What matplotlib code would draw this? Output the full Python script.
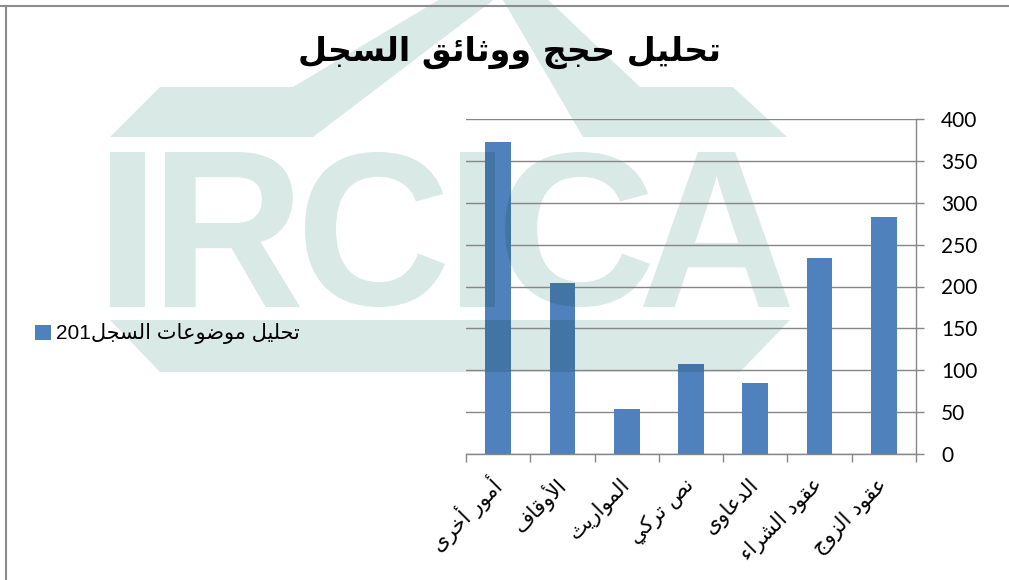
import numpy as np
import matplotlib.pyplot as plt
from matplotlib.patches import Polygon, PathPatch
from matplotlib.lines import Line2D
from matplotlib.textpath import TextPath
from matplotlib.font_manager import FontProperties
from matplotlib.transforms import Affine2D

# ---- data ----
title = 'تحليل حجج ووثائق السجل'
series_name = 'تحليل موضوعات السجل'
series_suffix = '201'
categories = ['أمور أخرى', 'الأوقاف', 'المواريث', 'نص تركي', 'الدعاوى', 'عقود الشراء', 'عقود الزوج']
values = [372, 204, 54, 107, 85, 234, 283]
yticks = [0, 50, 100, 150, 200, 250, 300, 350, 400]

# ---- minimal arabic shaping (matplotlib has no bidi / joining) ----
FORMS = {  # isolated, final, initial, medial
    'ا': (0xFE8D, 0xFE8E, None, None), 'أ': (0xFE83, 0xFE84, None, None),
    'ت': (0xFE95, 0xFE96, 0xFE97, 0xFE98), 'ث': (0xFE99, 0xFE9A, 0xFE9B, 0xFE9C),
    'ج': (0xFE9D, 0xFE9E, 0xFE9F, 0xFEA0), 'ح': (0xFEA1, 0xFEA2, 0xFEA3, 0xFEA4),
    'خ': (0xFEA5, 0xFEA6, 0xFEA7, 0xFEA8), 'د': (0xFEA9, 0xFEAA, None, None),
    'ر': (0xFEAD, 0xFEAE, None, None), 'ز': (0xFEAF, 0xFEB0, None, None),
    'س': (0xFEB1, 0xFEB2, 0xFEB3, 0xFEB4), 'ش': (0xFEB5, 0xFEB6, 0xFEB7, 0xFEB8),
    'ص': (0xFEB9, 0xFEBA, 0xFEBB, 0xFEBC), 'ض': (0xFEBD, 0xFEBE, 0xFEBF, 0xFEC0),
    'ع': (0xFEC9, 0xFECA, 0xFECB, 0xFECC), 'ف': (0xFED1, 0xFED2, 0xFED3, 0xFED4),
    'ق': (0xFED5, 0xFED6, 0xFED7, 0xFED8), 'ك': (0xFED9, 0xFEDA, 0xFEDB, 0xFEDC),
    'ل': (0xFEDD, 0xFEDE, 0xFEDF, 0xFEE0), 'م': (0xFEE1, 0xFEE2, 0xFEE3, 0xFEE4),
    'ن': (0xFEE5, 0xFEE6, 0xFEE7, 0xFEE8), 'و': (0xFEED, 0xFEEE, None, None),
    'ى': (0xFEEF, 0xFEF0, None, None), 'ي': (0xFEF1, 0xFEF2, 0xFEF3, 0xFEF4),
    'ئ': (0xFE89, 0xFE8A, 0xFE8B, 0xFE8C),
}
LAMALEF = {'ا': (0xFEFB, 0xFEFC), 'أ': (0xFEF7, 0xFEF8)}


def jtype(tok):
    if isinstance(tok, tuple):
        return 'R'
    if tok in FORMS:
        return 'D' if FORMS[tok][2] else 'R'
    return 'U'


def ar(text):
    toks = []
    i = 0
    while i < len(text):
        if text[i] == 'ل' and i + 1 < len(text) and text[i + 1] in LAMALEF:
            toks.append(('LA', text[i + 1]))
            i += 2
        else:
            toks.append(text[i])
            i += 1
    out = []
    for k, t in enumerate(toks):
        prev = jtype(toks[k - 1]) if k > 0 else 'U'
        nxt = jtype(toks[k + 1]) if k + 1 < len(toks) else 'U'
        me = jtype(t)
        jp = prev == 'D' and me in 'DR'
        jn = me == 'D' and nxt in 'DR'
        if isinstance(t, tuple):
            out.append(chr(LAMALEF[t[1]][1 if jp else 0]))
        elif t in FORMS:
            f = FORMS[t]
            idx = 3 if (jp and jn) else 1 if jp else 2 if jn else 0
            out.append(chr(f[idx]))
        else:
            out.append(t)
    return ''.join(out)[::-1]


W, H = 1009, 580
fig = plt.figure(figsize=(W / 100, H / 100), dpi=100)
ax = fig.add_axes([466 / W, 1 - 454 / H, 450 / W, 335 / H])
ax.patch.set_alpha(0)

x = np.arange(len(categories))
bars = ax.bar(x, values, width=0.4, color='#4f81bd', zorder=2,
              label=series_suffix + ar(series_name))

ax.set_xlim(-0.5, len(categories) - 0.5)
ax.set_ylim(0, 400)
ax.set_axisbelow(True)
ax.yaxis.grid(True, color='#868686', lw=1.0, zorder=0.5)

grey = '#868686'
for s in ['top', 'left']:
    ax.spines[s].set_visible(False)
for s in ['right', 'bottom']:
    ax.spines[s].set_color(grey)
    ax.spines[s].set_linewidth(1.0)

ax.yaxis.tick_right()
ax.set_yticks(yticks)
ax.tick_params(axis='y', which='major', direction='out', length=6, width=1.0,
               color=grey, pad=12, labelsize=15, labelcolor='black')
for lab in ax.get_yticklabels():
    lab.set_family('Lato')

ax.set_xticks(x)
ax.set_xticklabels([ar(c) for c in categories], rotation=45, ha='right',
                   va='center', rotation_mode='anchor', fontsize=15,
                   family='DejaVu Sans')
ax.set_xticks(np.arange(len(categories) + 1) - 0.5, minor=True)
ax.tick_params(axis='x', which='major', length=0, pad=20)
ax.tick_params(axis='x', which='minor', direction='out', length=6, width=1.0,
               color=grey)

leg = ax.legend(loc='center left', bbox_to_anchor=(35 / W, 1 - 334 / H),
                bbox_transform=fig.transFigure, frameon=False,
                borderaxespad=0, borderpad=0,
                handlelength=0.75, handleheight=0.75, handletextpad=0.25,
                prop={'family': ['Liberation Sans', 'DejaVu Sans'], 'size': 15})

fig.text(510 / W, 1 - 52 / H, ar(title), ha='center', va='center',
         fontsize=24, fontweight='bold', family='DejaVu Sans', zorder=5)


# ---- IRCICA watermark ----
def px(pts):
    return [(a / W, 1 - b / H) for a, b in pts]


roof = [
    [(110, 137), (160, 87), (293, 87), (447, -5), (500, -5), (313, 137)],
    [(500, -5), (543, -5), (640, 87), (733, 87), (787, 137), (583, 137)],
    [(110, 320), (790, 320), (740, 372), (160, 372)],
]
fp = FontProperties(family='Liberation Sans', weight='bold')
letter_boxes = [('I', 110, 145), ('R', 165, 300), ('C', 305, 445),
                ('I', 460, 495), ('C', 505, 650), ('A', 643, 790)]
letter_paths = []
for ch, x0, x1 in letter_boxes:
    tp = TextPath((0, 0), ch, size=100, prop=fp)
    ext = tp.get_extents()
    sx = (x1 - x0) / W / ext.width
    sy = (307 - 152) / H / ext.height
    tr = Affine2D().translate(-ext.x0, -ext.y0).scale(sx, sy).translate(x0 / W, 1 - 307 / H)
    letter_paths.append(tr.transform_path(tp))


def watermark(**style):
    out = [Polygon(px(pts), transform=fig.transFigure, **style) for pts in roof]
    out += [PathPatch(p, transform=fig.transFigure, **style) for p in letter_paths]
    return out


# light teal behind everything
for p in watermark(facecolor='#89bdb4', edgecolor='none', alpha=0.33, zorder=0.2):
    p.set_clip_on(False)
    ax.add_patch(p)

# darker tint where the watermark passes over the bars
for b in bars:
    for p in watermark(facecolor='#003c28', edgecolor='none', alpha=0.16, zorder=2.5):
        ax.add_patch(p)
        p.set_clip_path(b)

# outer frame lines
fig.add_artist(Line2D([0, 1], [1 - 6 / H] * 2, transform=fig.transFigure,
                      color='#8c8c8c', lw=1.5))
fig.add_artist(Line2D([6 / W] * 2, [0, 1 - 6 / H], transform=fig.transFigure,
                      color='#8c8c8c', lw=1.5))

fig.savefig('out.png', dpi=100)
